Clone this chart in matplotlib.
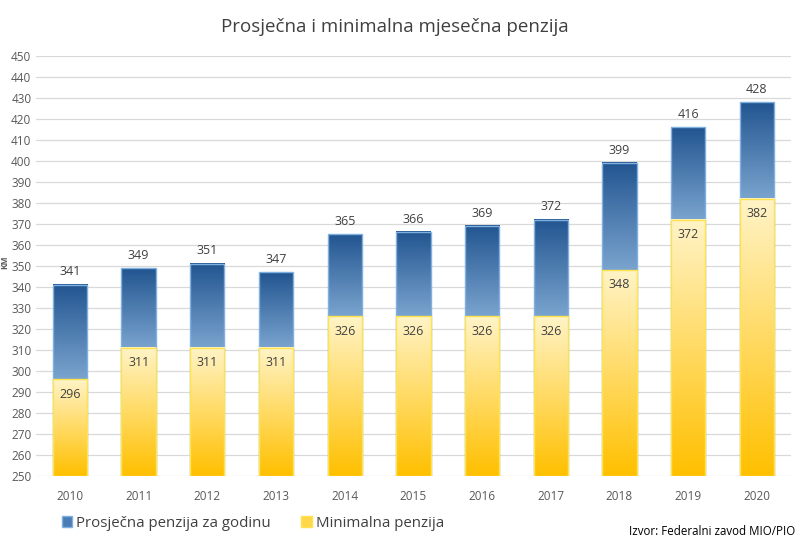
import numpy as np
import matplotlib.pyplot as plt
from matplotlib.colors import LinearSegmentedColormap
from matplotlib.patches import Patch

godine = ['2010', '2011', '2012', '2013', '2014', '2015', '2016', '2017', '2018', '2019', '2020']
prosjecna = [341, 349, 351, 347, 365, 366, 369, 372, 399, 416, 428]
minimalna = [296, 311, 311, 311, 326, 326, 326, 326, 348, 372, 382]

plt.rcParams['font.family'] = ['Open Sans', 'DejaVu Sans']

plava = LinearSegmentedColormap.from_list('plava', ['#7aa4cf', '#225590'])
zuta = LinearSegmentedColormap.from_list('zuta', ['#ffc000', '#fff4c8'])
grad = np.linspace(0, 1, 256).reshape(-1, 1)

fig = plt.figure(figsize=(8, 5.5), dpi=100)
ax = fig.add_axes([0.0445, 0.135, 0.9445, 0.7637])

x = np.arange(len(godine))
w = 0.5
dno = 250


def gradient_bars(donji, gornji, cmap, edge, z):
    bars = ax.bar(x, np.array(gornji) - dno, bottom=dno, width=w,
                  facecolor='none', edgecolor=edge, linewidth=1, zorder=z + 1)
    for b, d in zip(bars, donji):
        x0 = b.get_x()
        ax.imshow(grad, extent=[x0, x0 + b.get_width(), d, b.get_y() + b.get_height()],
                  origin='lower', aspect='auto', cmap=cmap, zorder=z)
    return bars


gradient_bars(minimalna, prosjecna, plava, '#7fb0e0', 2)
gradient_bars([dno] * len(godine), minimalna, zuta, '#ffe34d', 4)

for i in range(len(godine)):
    ax.text(x[i], prosjecna[i] + 3, str(prosjecna[i]), ha='center', va='bottom',
            fontsize=9, color='#404040', zorder=6)
    ax.text(x[i], minimalna[i] - 4, str(minimalna[i]), ha='center', va='top',
            fontsize=9, color='#404040', zorder=6)

ax.set_xlim(-0.5, len(godine) - 0.5)
ax.set_ylim(250, 450)
ax.set_yticks(range(250, 451, 10))
ax.set_xticks(x)
ax.set_xticklabels(godine)
ax.tick_params(axis='both', length=0, labelsize=8.5, colors='#595959')
ax.tick_params(axis='x', pad=10)
ax.tick_params(axis='y', pad=3)
ax.grid(axis='y', color='#d9d9d9', linewidth=0.9, zorder=0)
ax.set_axisbelow(True)
for s in ax.spines.values():
    s.set_visible(False)

fig.text(0.494, 0.951, 'Prosječna i minimalna mjesečna penzija', ha='center', va='center',
         fontsize=13.5, color='#404040')
fig.text(0.0, 0.524, 'KM', rotation=90, ha='left', va='center', fontsize=6,
         fontweight='bold', color='#595959')

handles = [Patch(facecolor='#4a7db3', edgecolor='#7fb0e0'),
           Patch(facecolor='#ffd84a', edgecolor='#ffe34d')]
fig.legend(handles, ['Prosječna penzija za godinu', 'Minimalna penzija'],
           loc='center left', bbox_to_anchor=(0.06, 0.049), ncol=2, frameon=False,
           fontsize=10.8, handlelength=0.7, handleheight=0.7, handletextpad=0.3,
           columnspacing=2.0, labelcolor='#404040')
fig.text(0.994, 0.033, 'Izvor: Federalni zavod MIO/PIO', ha='right', va='center',
         fontsize=8.3, color='#000000')

fig.savefig('out.png', dpi=100)
